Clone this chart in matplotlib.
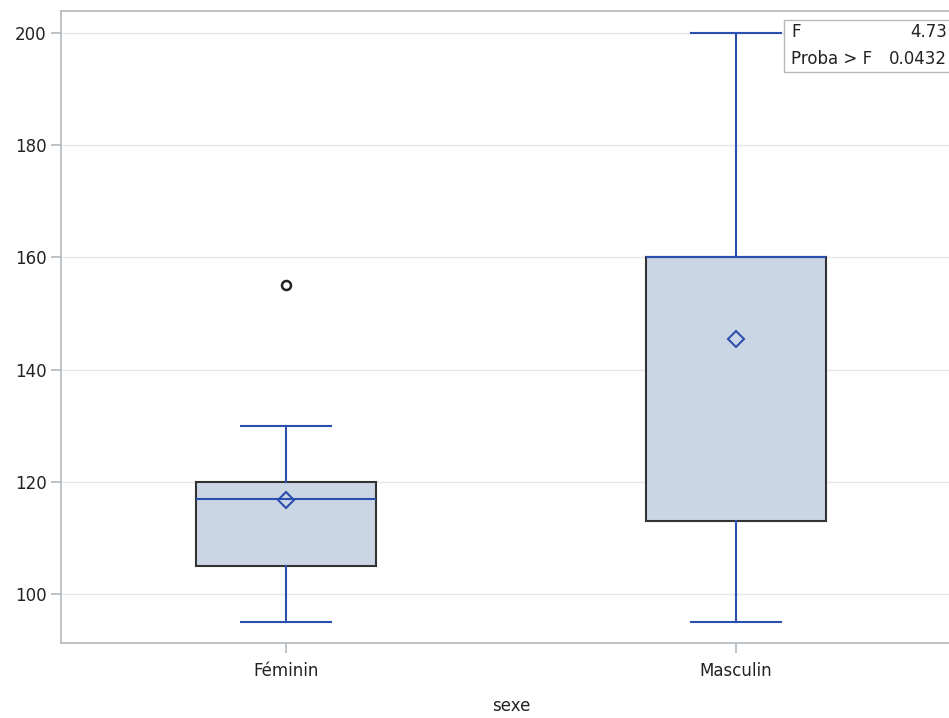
import matplotlib.pyplot as plt
from matplotlib.patches import Rectangle

plt.rcParams['font.family'] = ['DejaVu Sans']

# données
groupes = ['Féminin', 'Masculin']
w_bas = [95, 95]
q1 = [105, 113]
mediane = [117, 160]
q3 = [120, 160]
w_haut = [130, 200]
moyenne = [116.8, 145.5]
aberrants = [[155], []]
f_val = '4.73'
proba = '0.0432'

bleu = '#2B4FAE'
remplissage = '#CBD6E5'
gris = '#B3B9BE'

fig = plt.figure(figsize=(9.49, 7.18), dpi=100)
ax = fig.add_axes([61 / 949, 75 / 718, 900 / 949, 632 / 718])

stats = []
for i in range(len(groupes)):
    stats.append({'whislo': w_bas[i], 'q1': q1[i], 'med': mediane[i], 'q3': q3[i],
                  'whishi': w_haut[i], 'mean': moyenne[i], 'fliers': aberrants[i]})

ax.bxp(stats, positions=[1, 2], widths=0.4, capwidths=0.2, patch_artist=True,
       showmeans=True, showfliers=True,
       boxprops=dict(facecolor=remplissage, edgecolor='#333333', linewidth=1.5),
       medianprops=dict(color=bleu, linewidth=1.5),
       whiskerprops=dict(color=bleu, linewidth=1.5),
       capprops=dict(color=bleu, linewidth=1.5),
       meanprops=dict(marker='D', markerfacecolor='none', markeredgecolor=bleu,
                      markersize=8, markeredgewidth=1.5),
       flierprops=dict(marker='o', markerfacecolor='none', markeredgecolor='#222222',
                       markersize=6.5, markeredgewidth=1.8),
       zorder=3)

ax.set_xlim(0.5, 2.5)
ax.set_ylim(91.27, 203.92)
ax.set_yticks([100, 120, 140, 160, 180, 200])
ax.set_xticks([1, 2])
ax.set_xticklabels(groupes)
ax.grid(axis='y', color='#E6E6E6', linewidth=1, zorder=0)
ax.set_axisbelow(True)
for s in ax.spines.values():
    s.set_color(gris)
    s.set_linewidth(1.2)
ax.spines['right'].set_visible(False)
ax.tick_params(colors=gris, labelcolor='#222222', labelsize=12, length=7, width=1.2)
ax.tick_params(axis='x', pad=7)
ax.set_xlabel('sexe', fontsize=12, color='#222222', labelpad=12)

# encadré F
fig.patches.append(Rectangle((784 / 949, 1 - 72 / 718), 0.2, 52 / 718, transform=fig.transFigure,
                             facecolor='white', edgecolor=gris, linewidth=1, zorder=5))
fig.text(791 / 949, 1 - 32 / 718, 'F', fontsize=12, va='center', ha='left', color='#222222', zorder=6)
fig.text(947 / 949, 1 - 32 / 718, f_val, fontsize=12, va='center', ha='right', color='#222222', zorder=6)
fig.text(791 / 949, 1 - 59 / 718, 'Proba > F', fontsize=12, va='center', ha='left', color='#222222', zorder=6)
fig.text(947 / 949, 1 - 59 / 718, proba, fontsize=12, va='center', ha='right', color='#222222', zorder=6)

fig.savefig('out.png', dpi=100)
